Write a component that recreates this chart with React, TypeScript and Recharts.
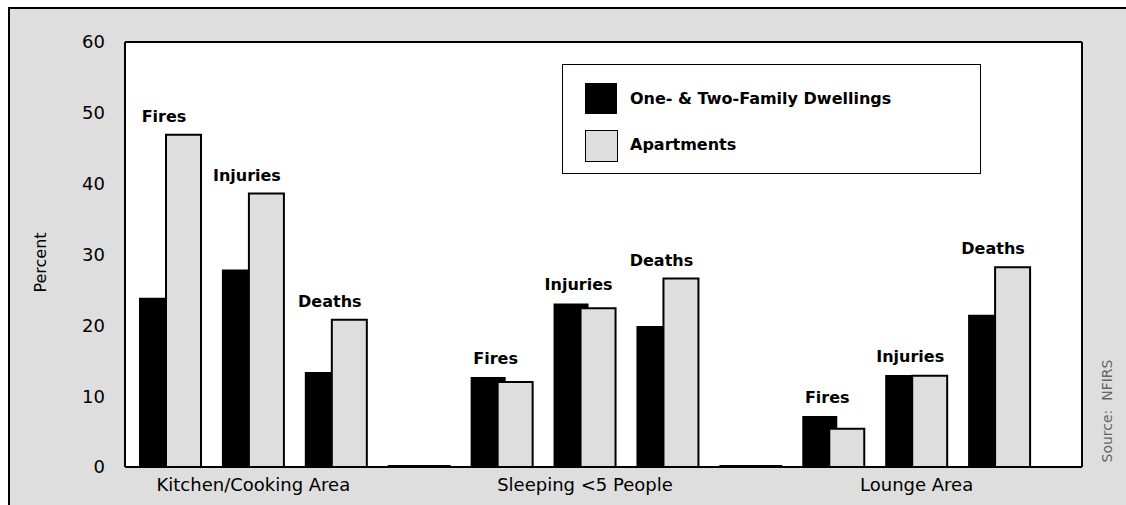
import { BarChart, Bar, XAxis, YAxis, CartesianGrid, Legend, LabelList } from "recharts";

// one slot per pair of bars, with an empty slot between the groups
const slotIds = ["k-fires", "k-injuries", "k-deaths", "gap1", "s-fires", "s-injuries", "s-deaths", "gap2", "l-fires", "l-injuries", "l-deaths"];
const metricLabels = ["Fires", "Injuries", "Deaths", "", "Fires", "Injuries", "Deaths", "", "Fires", "Injuries", "Deaths"];
const groupLabels = ["", "Kitchen/Cooking Area", "", "", "", "Sleeping <5 People", "", "", "", "Lounge Area", ""];

const dwellings = [23.9, 27.9, 13.4, 0, 12.7, 23.1, 19.9, 0, 7.2, 13.0, 21.5];
const apartments = [46.9, 38.6, 20.8, 0, 12.0, 22.4, 26.6, 0, 5.4, 12.9, 28.2];

const yTicks = [0, 10, 20, 30, 40, 50, 60];

const data = slotIds.map((id, i) => ({
  id,
  dwellings: dwellings[i],
  apartments: apartments[i],
}));

const GRAY = "#dedede";
const FONT = "DejaVu Sans";

function MetricLabel(props: any) {
  const vb = props.viewBox ?? props;
  const { x, y, width, height } = vb;
  const i = props.index;
  const text = metricLabels[i];
  if (!text || !apartments[i]) return null;
  const base = y + height;
  const perUnit = height / apartments[i];
  const top = base - Math.max(dwellings[i], apartments[i]) * perUnit;
  return (
    <text
      x={x + width - 37}
      y={top - 13}
      textAnchor="middle"
      fontFamily={FONT}
      fontWeight="bold"
      fontSize={16}
      fill="#000"
    >
      {text}
    </text>
  );
}

function LegendBox() {
  const row = { position: "absolute" as const, left: 67, fontFamily: FONT, fontWeight: "bold" as const, fontSize: 16, lineHeight: "20px" };
  return (
    <div style={{ position: "relative", width: 419, height: 110, border: "1px solid #000", background: "#fff", boxSizing: "border-box" }}>
      <div style={{ position: "absolute", left: 22, top: 18, width: 32, height: 31, background: "#000" }} />
      <div style={{ ...row, top: 24 }}>One- &amp; Two-Family Dwellings</div>
      <div style={{ position: "absolute", left: 22, top: 65, width: 31, height: 30, background: GRAY, border: "1px solid #000" }} />
      <div style={{ ...row, top: 70 }}>Apartments</div>
    </div>
  );
}

export default function App() {
  return (
    <>
      <style>{"body{margin:0;overflow:hidden}"}</style>
      <div style={{ position: "relative", marginLeft: 8, marginTop: 7, width: 1118, height: 498, overflow: "hidden", background: GRAY }}>
        <div
          style={{
            position: "absolute",
            left: 0,
            top: 0,
            right: -10,
            bottom: -10,
            borderTop: "2px solid #000",
            borderLeft: "2px solid #000",
          }}
        />
        <div style={{ position: "absolute", left: 0, top: 0 }}>
          <BarChart
            width={1118}
            height={498}
            data={data}
            margin={{ top: 34, right: 43, bottom: 0, left: 0 }}
            barSize={35}
            barGap={-8}
          >
            <CartesianGrid horizontal={false} vertical={false} fill="#fff" />
            <XAxis
              dataKey="id"
              height={38}
              interval={0}
              padding={{ left: 4, right: 41 }}
              tickLine={false}
              tickMargin={5}
              axisLine={{ stroke: "#000", strokeWidth: 2 }}
              tick={{ fontFamily: FONT, fontSize: 18, fill: "#000" }}
              tickFormatter={(_v: any, i: number) => groupLabels[i]}
            />
            <XAxis
              xAxisId="top"
              dataKey="id"
              orientation="top"
              height={1}
              padding={{ left: 4, right: 41 }}
              tick={false}
              tickLine={false}
              axisLine={{ stroke: "#000", strokeWidth: 2 }}
            />
            <YAxis
              width={117}
              domain={[0, 60]}
              ticks={yTicks}
              tickLine={false}
              tickSize={6}
              tickMargin={14}
              axisLine={{ stroke: "#000", strokeWidth: 2 }}
              tick={{ fontFamily: FONT, fontSize: 18, fill: "#000" }}
              label={{
                content: (p: any) => {
                  const vb = p.viewBox;
                  const cx = vb.x + 32;
                  const cy = vb.y + vb.height / 2 + 8;
                  return (
                    <text x={cx} y={cy} transform={`rotate(-90 ${cx} ${cy})`} textAnchor="middle" dominantBaseline="central" fontFamily={FONT} fontSize={16} fill="#000">
                      Percent
                    </text>
                  );
                },
              }}
            />
            <YAxis
              yAxisId="right"
              orientation="right"
              width={1}
              domain={[0, 60]}
              tick={false}
              tickLine={false}
              axisLine={{ stroke: "#000", strokeWidth: 2 }}
              label={{
                content: (p: any) => {
                  const vb = p.viewBox;
                  const cx = vb.x + 25;
                  const cy = vb.y + vb.height - 56;
                  return (
                    <text x={cx} y={cy} transform={`rotate(-90 ${cx} ${cy})`} textAnchor="middle" dominantBaseline="central" fontFamily={FONT} fontSize={14} fill="#666" style={{ whiteSpace: "pre" }}>
                      {"Source:  NFIRS"}
                    </text>
                  );
                },
              }}
            />
            <Legend
              layout="vertical"
              align="center"
              verticalAlign="middle"
              wrapperStyle={{ left: 554, top: 57, width: 419, height: 110 }}
              content={() => <LegendBox />}
            />
            <Bar dataKey="dwellings" name="One- & Two-Family Dwellings" fill="#000" minPointSize={2} isAnimationActive={false} />
            <Bar dataKey="apartments" name="Apartments" fill={GRAY} stroke="#000" strokeWidth={2} minPointSize={1} isAnimationActive={false}>
              <LabelList dataKey="apartments" content={MetricLabel} />
            </Bar>
          </BarChart>
        </div>
      </div>
    </>
  );
}
